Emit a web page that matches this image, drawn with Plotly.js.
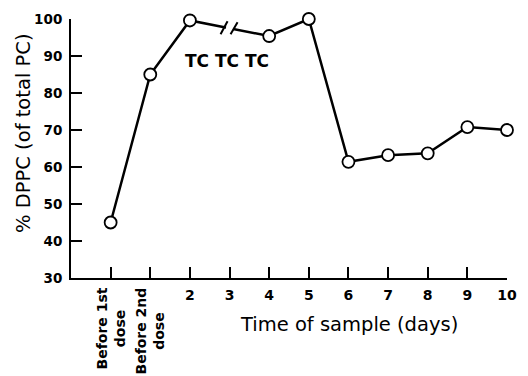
<!DOCTYPE html>
<html>
<head>
<meta charset="utf-8">
<script src="https://cdn.plot.ly/plotly-3.0.1.min.js"></script>
<style>html,body{margin:0;padding:0;background:#fff;}#chart{width:528px;height:376px;}</style>
</head>
<body>
<div id="chart"></div>
<script>
// Tick categories along the time axis
const timeCategories = ["Before 1st dose", "Before 2nd dose", "2", "3", "4", "5", "6", "7", "8", "9", "10"];
const timeTickText = ["", "", "2", "3", "4", "5", "6", "7", "8", "9", "10"];
// Rotated labels for the pre-dose samples
const preDoseLabels = ["Before 1st<br>dose", "Before 2nd<br>dose"];
// Sampled time points (no sample on day 3: axis break)
const sampleTimes = ["Before 1st dose", "Before 2nd dose", "2", "4", "5", "6", "7", "8", "9", "10"];
const dppcPercent = [45, 85, 99.6, 95.4, 100, 61.4, 63.2, 63.7, 70.8, 70];
// y-axis ticks
const yTicks = [30, 40, 50, 60, 70, 80, 90, 100];

const breakCat = "3";
const breakY = (dppcPercent[sampleTimes.indexOf("2")] + dppcPercent[sampleTimes.indexOf("4")]) / 2;

const trace = {
  x: sampleTimes,
  y: dppcPercent,
  type: "scatter",
  mode: "lines+markers",
  line: {color: "#000", width: 2.5},
  marker: {symbol: "circle", size: 12, color: "#fff", line: {color: "#000", width: 1.8}},
  cliponaxis: false,
  hoverinfo: "skip"
};

const tickFont = {family: "DejaVu Sans", size: 14, color: "#000", weight: "bold"};
const rotFont = {family: "DejaVu Sans", size: 14, color: "#000", weight: "bold"};

const annotations = [
  {x: timeCategories[0], xref: "x", y: -0.03, yref: "paper",
   text: preDoseLabels[0], textangle: -90, showarrow: false, xanchor: "center", yanchor: "top", align: "center",
   font: rotFont},
  {x: timeCategories[1], xref: "x", y: -0.03, yref: "paper",
   text: preDoseLabels[1], textangle: -90, showarrow: false, xanchor: "center", yanchor: "top", align: "center",
   font: rotFont},
  {x: 0.638, xref: "paper", y: -0.181, yref: "paper", text: "Time of sample (days)", showarrow: false,
   xanchor: "center", yanchor: "middle", font: {family: "DejaVu Sans", size: 19.5, color: "#000"}},
  {x: -0.109, xref: "paper", y: 0.558, yref: "paper", text: "% DPPC (of total PC)", showarrow: false,
   textangle: -90, xanchor: "center", yanchor: "middle", font: {family: "DejaVu Sans", size: 19.5, color: "#000"}},
  {x: breakCat, xref: "x", y: 88.6, yref: "y", xshift: -3, text: "TC TC TC", showarrow: false,
   xanchor: "center", yanchor: "middle", font: {family: "DejaVu Sans", size: 17, color: "#000", weight: "bold"}}
];

const shapes = [
  {type: "line", xref: "x", yref: "y", xsizemode: "pixel", ysizemode: "pixel", xanchor: breakCat, yanchor: breakY,
   x0: -3.5, x1: 3.5, y0: 0.7, y1: -0.7, line: {color: "#fff", width: 6}},
  {type: "line", xref: "x", yref: "y", xsizemode: "pixel", ysizemode: "pixel", xanchor: breakCat, yanchor: breakY,
   x0: -9, x1: -2, y0: -6, y1: 7, line: {color: "#000", width: 2}},
  {type: "line", xref: "x", yref: "y", xsizemode: "pixel", ysizemode: "pixel", xanchor: breakCat, yanchor: breakY,
   x0: 1, x1: 8, y0: -6, y1: 6, line: {color: "#000", width: 2}}
];

const layout = {
  width: 528, height: 376,
  margin: {l: 71, r: 21, t: 19, b: 98, pad: 0},
  paper_bgcolor: "#fff", plot_bgcolor: "#fff",
  showlegend: false,
  xaxis: {
    type: "category", categoryorder: "array", categoryarray: timeCategories,
    tickvals: timeCategories, ticktext: timeTickText,
    range: [-1, 10], fixedrange: true,
    showline: true, linecolor: "#000", linewidth: 2,
    ticks: "inside", ticklen: 11, tickwidth: 2, tickcolor: "#000",
    showgrid: false, zeroline: false, tickangle: 0,
    tickfont: tickFont, ticklabelstandoff: 3
  },
  yaxis: {
    range: [30, 100], tickvals: yTicks, fixedrange: true,
    showline: true, linecolor: "#000", linewidth: 2,
    ticks: "inside", ticklen: 11, tickwidth: 2, tickcolor: "#000",
    showgrid: false, zeroline: false,
    tickfont: {family: "DejaVu Sans", size: 13.5, color: "#000", weight: "bold"}, ticklabelstandoff: 4
  },
  annotations: annotations,
  shapes: shapes
};

Plotly.newPlot("chart", [trace], layout, {staticPlot: true, displayModeBar: false});
</script>
</body>
</html>
